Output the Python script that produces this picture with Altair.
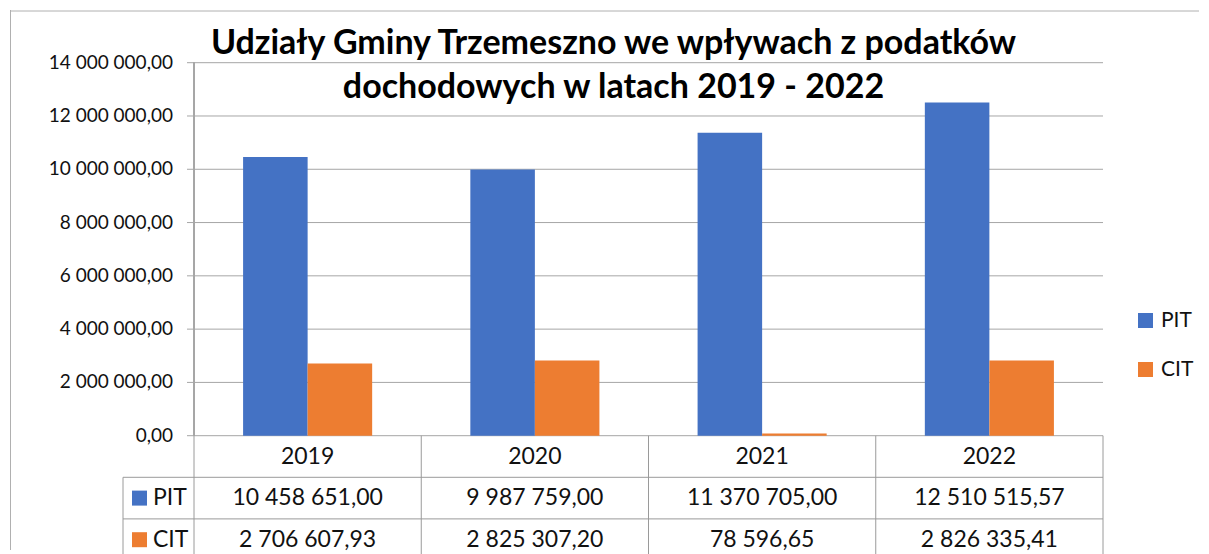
import altair as alt
import pandas as pd

# ---- data ----
years = ["2019", "2020", "2021", "2022"]
series = ["PIT", "CIT"]
pit = [10458651.00, 9987759.00, 11370705.00, 12510515.57]
cit = [2706607.93, 2825307.20, 78596.65, 2826335.41]
y_ticks = [0, 2000000, 4000000, 6000000, 8000000, 10000000, 12000000, 14000000]
title_lines = ["Udziały Gminy Trzemeszno we wpływach z podatków",
               "dochodowych w latach 2019 - 2022"]
colors = ["#4472C4", "#ED7D31"]


def pl(v):
    return f"{v:,.2f}".replace(",", " ").replace(".", ",")


# ---- layout / style ----
W, H = 1189, 540
X_RANGE = [184, 1093]
Y0, YTOP = 425.7, 52.7
ROW_H = 41.6
LABEL_COL = 71 / 227.25
BAR_W = 0.284
FONT = "Lato"
GRID = "#a6a6a6"
LINE = "#9a9a9a"
TXT = "#111111"

n = len(years)
xs = alt.Scale(domain=[0, n], range=X_RANGE, nice=False, zero=False)
ys = alt.Scale(domain=[0, y_ticks[-1]], range=[Y0, YTOP], nice=False, zero=False)
ts = alt.Scale(domain=[0, 3], range=[Y0, Y0 + 3 * ROW_H], nice=False, zero=False)
cscale = alt.Scale(domain=series, range=colors)

# bars
rows = []
for i, yr in enumerate(years):
    for k, (s, vals) in enumerate([("PIT", pit), ("CIT", cit)]):
        x0 = i + 0.5 - BAR_W + k * BAR_W
        rows.append(dict(year=yr, series=s, value=vals[i], x0=x0, x1=x0 + BAR_W))
bars_df = pd.DataFrame(rows)

ticks_df = pd.DataFrame({"t": y_ticks, "lab": [pl(t) for t in y_ticks]})

border_top = alt.Chart().mark_rule(color="#b0b0b0").encode(
    x=alt.value(0), x2=alt.value(W), y=alt.value(1))
border_left = alt.Chart().mark_rule(color="#b0b0b0").encode(
    x=alt.value(0.5), y=alt.value(0), y2=alt.value(H))

grid = alt.Chart(ticks_df).mark_rule(color=GRID, xOffset=-7).encode(
    x=alt.X(datum=0, scale=xs, axis=None),
    x2=alt.X2(datum=n),
    y=alt.Y("t:Q", scale=ys, axis=None),
)
axis_line = alt.Chart(ticks_df).mark_rule(color=GRID).encode(
    x=alt.X(datum=0, scale=xs, axis=None),
    y=alt.Y(datum=0, scale=ys, axis=None),
    y2=alt.Y2(datum=y_ticks[-1]),
)
tick_labels = alt.Chart(ticks_df).mark_text(
    align="right", baseline="middle", dx=-21, font=FONT, fontSize=19, color=TXT
).encode(
    x=alt.X(datum=0, scale=xs, axis=None),
    y=alt.Y("t:Q", scale=ys, axis=None),
    text="lab:N",
)

bars = alt.Chart(bars_df).mark_rect().encode(
    x=alt.X("x0:Q", scale=xs, axis=None),
    x2="x1:Q",
    y=alt.Y("value:Q", scale=ys, axis=None),
    y2=alt.Y2(datum=0),
    color=alt.Color(
        "series:N", scale=cscale,
        legend=alt.Legend(
            title=None, orient="none", legendX=1125, legendY=300,
            symbolType="square", symbolSize=225, symbolStrokeWidth=0,
            labelFont=FONT, labelFontSize=21, labelColor=TXT,
            labelOffset=5, rowPadding=27, padding=0,
        ),
    ),
)

# ---- data table ----
vlines = alt.Chart(pd.DataFrame({"b": list(range(n + 1))})).mark_rule(color=LINE).encode(
    x=alt.X("b:Q", scale=xs, axis=None),
    y=alt.Y(datum=0, scale=ts, axis=None),
    y2=alt.Y2(datum=3),
)
left_line = alt.Chart(pd.DataFrame({"b": [0]})).mark_rule(color=LINE).encode(
    x=alt.X(datum=-LABEL_COL, scale=xs, axis=None),
    y=alt.Y(datum=1, scale=ts, axis=None),
    y2=alt.Y2(datum=3),
)
hlines = alt.Chart(pd.DataFrame({"r": [1, 2, 3]})).mark_rule(color=LINE).encode(
    x=alt.X(datum=-LABEL_COL, scale=xs, axis=None),
    x2=alt.X2(datum=n),
    y=alt.Y("r:Q", scale=ts, axis=None),
)

cells = []
for i, yr in enumerate(years):
    cells.append(dict(c=i + 0.5, r=0.5, txt=yr))
    cells.append(dict(c=i + 0.5, r=1.5, txt=pl(pit[i])))
    cells.append(dict(c=i + 0.5, r=2.5, txt=pl(cit[i])))
cells_df = pd.DataFrame(cells)
cell_text = alt.Chart(cells_df).mark_text(
    align="center", baseline="middle", font=FONT, fontSize=23, color=TXT
).encode(
    x=alt.X("c:Q", scale=xs, axis=None),
    y=alt.Y("r:Q", scale=ts, axis=None),
    text="txt:N",
)

keys_df = pd.DataFrame({"series": series, "r": [1.5, 2.5]})
key_sq = alt.Chart(keys_df).mark_square(size=225, opacity=1, xOffset=16.5).encode(
    x=alt.X(datum=-LABEL_COL, scale=xs, axis=None),
    y=alt.Y("r:Q", scale=ts, axis=None),
    fill=alt.Fill("series:N", scale=alt.Scale(domain=series, range=colors), legend=None),
)
key_lab = alt.Chart(keys_df).mark_text(
    align="left", baseline="middle", dx=30, font=FONT, fontSize=23, color=TXT
).encode(
    x=alt.X(datum=-LABEL_COL, scale=xs, axis=None),
    y=alt.Y("r:Q", scale=ts, axis=None),
    text="series:N",
)

chart = alt.layer(
    border_top, border_left, grid, axis_line, tick_labels, bars,
    vlines, left_line, hlines, cell_text, key_sq, key_lab,
).resolve_scale(y="independent").properties(
    width=W, height=H,
    padding={"left": 2, "top": 2, "right": 2, "bottom": 4},
    autosize=alt.AutoSizeParams(type="none"),
    background="white",
    title=alt.TitleParams(
        text=title_lines, anchor="middle", font=FONT, fontSize=34,
        fontWeight="bold", color="black", lineHeight=44, offset=0, dy=95, dx=9,
    ),
).configure_view(stroke=None)

chart.save("out.html", embed_options={"renderer": "svg", "actions": False})
